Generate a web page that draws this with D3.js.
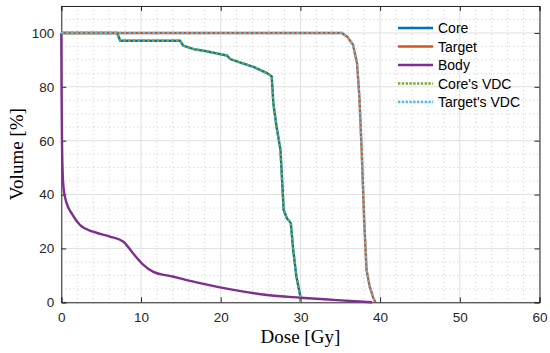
<!DOCTYPE html>
<html><head><meta charset="utf-8">
<script src="https://cdn.jsdelivr.net/npm/d3@7"></script>
<style>body{margin:0;background:#fff;} svg{display:block;}</style>
</head><body>
<svg id="c" width="550" height="353"></svg>
<script>
const xTicks = [0,10,20,30,40,50,60];
const yTicks = [0,20,40,60,80,100];
const seriesNames = ["Core","Target","Body","Core's VDC","Target's VDC"];
const coreDose = [0,7.0,7.4,14.9,15.3,16.6,18.2,20.8,21.2,22.4,24.1,25.8,26.4,26.6,27.0,27.5,27.9,28.3,28.8,29.1,29.5,30.0,30.05];
const coreVol  = [100,100,97.1,97.1,95.3,94.0,93.2,91.6,90.3,89.1,87.4,85.1,83.9,74,65.3,56.6,34.3,31.2,29.4,19.4,9.5,2.1,0];
const targetDose = [0,35.2,35.9,36.6,37.1,37.4,37.7,38.0,38.3,38.7,39.1,39.4];
const targetVol  = [100,100,98.5,95.6,88.8,76.4,55.4,30.6,12,5.8,2.0,0];
const bodyDose = [0,0.03,0.08,0.15,0.3,0.67,1.3,2.35,4.0,6.1,7.8,9.0,10.3,11.5,14.1,17.4,21.6,25.8,30,34.1,37.9,39.0];
const bodyVol  = [100,80,62,50,42,36.8,33,28.7,26.2,24.4,22.5,18.2,13.9,11.4,9.5,7.1,4.6,2.7,1.7,0.9,0.2,0];

const colors = ["#0072BD","#D95319","#7E2F8E","#77AC30","#4DBEEE"];
const svg = d3.select("#c");
const L=61.3, R=539.5, T=6, B=302.3;
const x = d3.scaleLinear().domain([0,60]).range([L,R]);
const y = d3.scaleLinear().domain([0,110]).range([B,T]);
const axisCol="#262626";

// minor grid
const g = svg.append("g");
d3.range(0,61,2).filter(v=>v%10!==0).forEach(v=>{
  g.append("line").attr("x1",x(v)).attr("x2",x(v)).attr("y1",T).attr("y2",B)
   .attr("stroke","#b4b4b4").attr("stroke-width",0.7).attr("stroke-dasharray","1,3");
});
d3.range(0,111,5).filter(v=>v%20!==0).forEach(v=>{
  g.append("line").attr("x1",L).attr("x2",R).attr("y1",y(v)).attr("y2",y(v))
   .attr("stroke","#b4b4b4").attr("stroke-width",0.7).attr("stroke-dasharray","1,3");
});
// major grid
xTicks.forEach(v=>g.append("line").attr("x1",x(v)).attr("x2",x(v)).attr("y1",T).attr("y2",B).attr("stroke","#e0e0e0").attr("stroke-width",1));
yTicks.forEach(v=>g.append("line").attr("x1",L).attr("x2",R).attr("y1",y(v)).attr("y2",y(v)).attr("stroke","#e0e0e0").attr("stroke-width",1));

// axes
const xa = svg.append("g").attr("transform",`translate(0,${B})`)
  .call(d3.axisBottom(x).tickValues(xTicks).tickSize(-5).tickPadding(10).tickFormat(d3.format("d")));
const ya = svg.append("g").attr("transform",`translate(${L},0)`)
  .call(d3.axisLeft(y).tickValues(yTicks).tickSize(-5).tickPadding(7).tickFormat(d3.format("d")));
const xt = svg.append("g").attr("transform",`translate(0,${T})`)
  .call(d3.axisTop(x).tickValues(xTicks).tickSize(-5).tickFormat(""));
const yr = svg.append("g").attr("transform",`translate(${R},0)`)
  .call(d3.axisRight(y).tickValues(yTicks).tickSize(-5).tickFormat(""));
[xa,ya,xt,yr].forEach(a=>{
  a.select(".domain").attr("stroke",axisCol).attr("stroke-width",1);
  a.selectAll(".tick line").attr("stroke",axisCol);
  a.selectAll("text").attr("fill","#262626").style("font-family","'Liberation Sans',Arial,sans-serif").style("font-size","13.5px");
});

// lines
const line = d3.line().x(d=>x(d[0])).y(d=>y(d[1]));
const zip=(a,b)=>a.map((v,i)=>[v,b[i]]);
const core = zip(coreDose,coreVol), target = zip(targetDose,targetVol), body = zip(bodyDose,bodyVol);
const plot = svg.append("g");
plot.append("path").datum(core).attr("d",line).attr("fill","none").attr("stroke",colors[0]).attr("stroke-width",2.4);
plot.append("path").datum(target).attr("d",line).attr("fill","none").attr("stroke",colors[1]).attr("stroke-width",2.4);
plot.append("path").datum(body).attr("d",d3.line().x(d=>x(d[0])).y(d=>y(d[1])).curve(d3.curveMonotoneX)).attr("fill","none").attr("stroke",colors[2]).attr("stroke-width",2.4);
plot.append("path").datum(core).attr("d",line).attr("fill","none").attr("stroke",colors[3]).attr("stroke-width",2.4).attr("stroke-dasharray","2.4,2.4");
plot.append("path").datum(target).attr("d",line).attr("fill","none").attr("stroke",colors[4]).attr("stroke-width",2.4).attr("stroke-dasharray","2.4,2.4");

// legend
const lg = svg.append("g");
seriesNames.forEach((n,i)=>{
  const yy = 28 + i*18.5;
  lg.append("line").attr("x1",398).attr("x2",433).attr("y1",yy).attr("y2",yy)
    .attr("stroke",colors[i]).attr("stroke-width",2.4).attr("stroke-dasharray", i>=3?"2.4,1.4":null);
  lg.append("text").attr("x",438).attr("y",yy+5).text(n)
    .style("font-family","'Liberation Sans',Arial,sans-serif").style("font-size","14px").attr("fill","#000");
});

// labels
svg.append("text").attr("x",(L+R)/2).attr("y",343).attr("text-anchor","middle").text("Dose [Gy]")
  .style("font-family","'Liberation Serif','Times New Roman',serif").style("font-size","19px").attr("fill","#000");
svg.append("text").attr("transform",`translate(23,${(T+B)/2}) rotate(-90)`).attr("text-anchor","middle").text("Volume [%]")
  .style("font-family","'Liberation Serif','Times New Roman',serif").style("font-size","19px").attr("fill","#000");
</script>
</body></html>
